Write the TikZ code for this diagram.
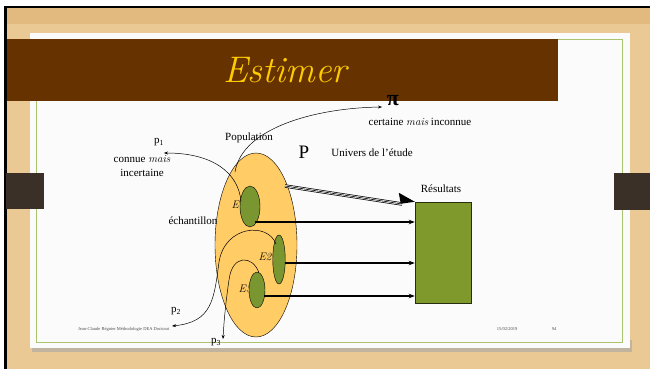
\documentclass[tikz,border=0pt]{standalone}
\usepackage{fontspec}
\setmainfont{Liberation Serif}
\newcommand\lmital{\fontfamily{lmr}\fontseries{m}\fontshape{it}\selectfont}
\newcommand\myit[1]{{\lmital #1}}
\usetikzlibrary{arrows.meta,shapes.geometric}
\definecolor{wood}{RGB}{234,201,148}
\definecolor{woodtop}{RGB}{226,186,128}
\definecolor{slideline}{RGB}{170,196,110}
\definecolor{band}{RGB}{102,51,0}
\definecolor{titlecol}{RGB}{255,204,0}
\definecolor{tab}{RGB}{58,48,40}
\definecolor{popfill}{RGB}{255,204,102}
\definecolor{sampfill}{RGB}{122,150,48}
\definecolor{resfill}{RGB}{128,153,45}
\tikzset{
  lbl/.style={font=\fontsize{11}{12}\selectfont, inner sep=0pt},
  elbl/.style={font=\lmital\fontsize{11}{12}\selectfont, inner sep=0pt},
  samp/.style={draw=black, line width=0.4pt, fill=sampfill},
  flow/.style={line width=1.4pt, -{Stealth[length=6pt,width=4.5pt]}},
  estim/.style={line width=0.5pt, -{Stealth[length=4pt,width=3pt]}},
  foot/.style={font=\fontsize{4.5}{5}\selectfont, text=black!70, inner sep=0pt}
}
\begin{document}
\begin{tikzpicture}[x=1pt,y=-1pt]
\useasboundingbox (0,0) rectangle (650,369);
% background
\fill[white] (0,0) rectangle (650,369);
\fill[wood] (6,8) rectangle (650,369);
\fill[woodtop] (6,8) rectangle (650,24);
\fill[black] (4,7) rectangle (6.5,369);
\fill[black] (4,6.5) rectangle (650,8.5);
% slide
\fill[black!35, opacity=0.6] (32,340) rectangle (632,352);
\fill[white!97!gray] (30,33) rectangle (630,348);
\draw[slideline, line width=1pt] (36,40) rectangle (622,342);
% side tabs
\fill[tab] (6,173) rectangle (44,209);
\fill[tab] (614,173) rectangle (650,210);
% title band
\fill[band] (7,39) rectangle (558,101);
\node[font=\lmital\fontsize{37}{40}\selectfont, text=titlecol, inner sep=0pt] (title) at (285,70) {Estimer};
% population
\node[draw=black, line width=0.4pt, fill=popfill, ellipse, minimum width=82pt, minimum height=184pt, inner sep=0pt] (pop) at (256,245) {};
% sample labels (partly covered)
\node[elbl] (e1l) at (238,205) {E1};
\node[elbl] (e2l) at (265,257) {E2};
\node[elbl] (e3l) at (245,289) {E3};
\node[lbl] (ech) at (193,221) {échantillon};
% samples
\node[samp, ellipse, minimum width=20pt, minimum height=41pt, inner sep=0pt] (e1) at (250,206.5) {};
\node[samp, ellipse, minimum width=12.5pt, minimum height=49pt, inner sep=0pt] (e2) at (279,259.5) {};
\node[samp, ellipse, minimum width=16pt, minimum height=36pt, inner sep=0pt] (e3) at (257,290) {};
% results box
\node[draw=black!70!resfill, line width=0.5pt, fill=resfill, minimum width=56pt, minimum height=101pt, inner sep=0pt] (res) at (443,252.5) {};
\node[lbl] (reslbl) at (441,189) {Résultats};
% texts
\node[lbl] (poplbl) at (249,138) {Population};
\node[inner sep=0pt, font=\fontsize{19}{20}\selectfont] (bigp) at (304,152) {P};
\node[lbl] (univ) at (372,153) {Univers de l’étude};
\node[inner sep=0pt, font=\bfseries\fontsize{22}{24}\selectfont] (pi) at (393,101) {π};
\node[lbl] (cert) at (420,122) {certaine \myit{mais} inconnue};
\node[lbl] (p1) at (159,142) {p\textsubscript{1}};
\node[lbl] (conn) at (142,159) {connue \myit{mais}};
\node[lbl] (inc) at (142,173) {incertaine};
\node[lbl] (p2) at (176,311) {p\textsubscript{2}};
\node[lbl] (p3) at (216,342) {p\textsubscript{3}};
% footer
\node[foot, anchor=west] (f1) at (78,329) {Jean-Claude Régnier Méthodologie DEA Doctorat};
\node[foot] (f2) at (507,329) {15/02/2019};
\node[foot] (f3) at (554,329) {94};
% flow arrows to results
\coordinate (a1) at (255,222);
\coordinate (a2) at (285,263);
\coordinate (a3) at (264,296);
\draw[flow] (a1) -- (a1 -| res.west);
\draw[flow] (a2) -- (a2 -| res.west);
\draw[flow] (a3) -- (a3 -| res.west);
% triple arrow from population to results
\coordinate (ts) at (285,186);
\coordinate (te) at (402,204);
\draw[line width=3.4pt] (ts) -- (te);
\draw[white, line width=2pt] (ts) -- (te);
\draw[black, line width=0.6pt] (ts) -- (te);
\fill[black] (res.north west) -- ++(-16,-9) -- ++(2,11) -- cycle;
% estimation curves
\coordinate (c0) at (235,172);
\coordinate (cpi) at (382,107);
\draw[estim] (c0) .. controls (242,128) and (315,108) .. (cpi);
\coordinate (c1) at (241,201);
\coordinate (cp1) at (164,153);
\draw[estim] (c1) .. controls (238,172) and (212,153) .. (cp1);
\coordinate (c2) at (276,244);
\coordinate (cp2) at (172,326);
\draw[estim] (c2) .. controls (268,222) and (225,225) .. (219,262)
  .. controls (214,300) and (212,322) .. (cp2);
\coordinate (c3) at (259,273);
\coordinate (cp3) at (223,339);
\draw[estim] (c3) .. controls (253,255) and (232,254) .. (229,280)
  .. controls (226,300) and (224,320) .. (cp3);
\end{tikzpicture}
\end{document}
